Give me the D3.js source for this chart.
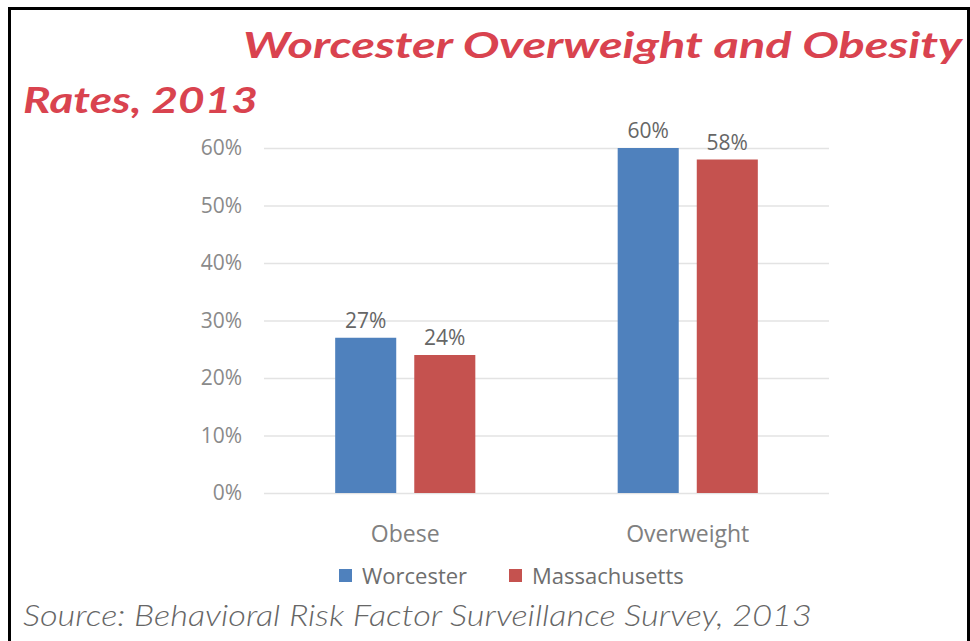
<!DOCTYPE html>
<html>
<head>
<meta charset="utf-8">
<script src="https://cdn.jsdelivr.net/npm/d3@7"></script>
<style>
  body { margin: 0; background: #fff; }
  svg { display: block; }
</style>
</head>
<body>
<script>
// chart data
var categories = ["Obese", "Overweight"];
var series = ["Worcester", "Massachusetts"];
var worcester = [0.27, 0.60];
var massachusetts = [0.24, 0.58];
var valueLabels = [["27%", "24%"], ["60%", "58%"]];
var yTicks = [0, 0.1, 0.2, 0.3, 0.4, 0.5, 0.6];
var colors = { "Worcester": "#4f81bd", "Massachusetts": "#c5524f" };

var W = 970, H = 641;
var svg = d3.select("body").append("svg").attr("width", W).attr("height", H);

// frame (top, left, right only - picture is cropped at bottom)
svg.append("path")
  .attr("d", "M9.5,641V8.5H968.5V641")
  .attr("fill", "none")
  .attr("stroke", "#000")
  .attr("stroke-width", 3);

// title
var titleColor = "#d9434f";
svg.append("text")
  .attr("x", 243).attr("y", 58)
  .attr("textLength", 719).attr("lengthAdjust", "spacingAndGlyphs")
  .style("font-family", "Lato, 'Open Sans', sans-serif")
  .style("font-weight", "bold").style("font-style", "italic")
  .style("font-size", "36px").attr("fill", titleColor)
  .text("Worcester Overweight and Obesity");
svg.append("text")
  .attr("x", 23).attr("y", 113)
  .attr("textLength", 235).attr("lengthAdjust", "spacingAndGlyphs")
  .style("font-family", "Lato, 'Open Sans', sans-serif")
  .style("font-weight", "bold").style("font-style", "italic")
  .style("font-size", "36px").attr("fill", titleColor)
  .text("Rates, 2013");

// scales
var y = d3.scaleLinear().domain([0, 0.6]).range([493, 148]);
var x0 = d3.scaleBand().domain(categories).range([264, 829]);
var x1 = d3.scaleBand().domain(series).range([0, x0.bandwidth()])
  .paddingInner(0.228).paddingOuter(0.9);

// y axis + gridlines
var yAxis = d3.axisLeft(y).tickValues(yTicks).tickFormat(d3.format(".0%"))
  .tickSize(-(829 - 264)).tickPadding(22);
var gy = svg.append("g").attr("transform", "translate(264,0)").call(yAxis);
gy.select(".domain").remove();
gy.selectAll(".tick line").attr("stroke", "#e3e3e3").attr("stroke-width", 1.5);
gy.selectAll(".tick text")
  .attr("fill", "#8a8a8a")
  .style("font-family", "'Open Sans', sans-serif")
  .style("font-size", "21px");

// bars
var rows = categories.map(function (c, i) {
  return { cat: c, vals: [worcester[i], massachusetts[i]], labels: valueLabels[i] };
});
var groups = svg.selectAll(".grp").data(rows).enter().append("g")
  .attr("class", "grp")
  .attr("transform", function (d) { return "translate(" + x0(d.cat) + ",0)"; });

groups.selectAll("rect")
  .data(function (d) { return d.vals.map(function (v, j) { return { s: series[j], v: v }; }); })
  .enter().append("rect")
  .attr("x", function (d) { return x1(d.s); })
  .attr("y", function (d) { return y(d.v); })
  .attr("width", x1.bandwidth())
  .attr("height", function (d) { return y(0) - y(d.v); })
  .attr("fill", function (d) { return colors[d.s]; });

groups.selectAll("text.val")
  .data(function (d) { return d.vals.map(function (v, j) { return { s: series[j], v: v, t: d.labels[j] }; }); })
  .enter().append("text")
  .attr("class", "val")
  .attr("x", function (d) { return x1(d.s) + x1.bandwidth() / 2; })
  .attr("y", function (d) { return y(d.v) - 10; })
  .attr("text-anchor", "middle")
  .attr("fill", "#666")
  .style("font-family", "'Open Sans', sans-serif")
  .style("font-size", "21px")
  .text(function (d) { return d.t; });

// category labels
svg.selectAll("text.cat").data(categories).enter().append("text")
  .attr("class", "cat")
  .attr("x", function (d) { return x0(d) + x0.bandwidth() / 2; })
  .attr("y", 542)
  .attr("text-anchor", "middle")
  .attr("fill", "#808080")
  .style("font-family", "'Open Sans', sans-serif")
  .style("font-size", "23px")
  .text(function (d) { return d; });

// legend
var legendX = [339, 509];
var lg = svg.selectAll(".lg").data(series).enter().append("g")
  .attr("class", "lg")
  .attr("transform", function (d, i) { return "translate(" + legendX[i] + ",0)"; });
lg.append("rect").attr("x", 0).attr("y", 569).attr("width", 13).attr("height", 13)
  .attr("fill", function (d) { return colors[d]; });
lg.append("text").attr("x", 23).attr("y", 584)
  .attr("fill", "#6e6e6e")
  .style("font-family", "'Open Sans', sans-serif")
  .style("font-size", "22px")
  .text(function (d) { return d; });

// source note
svg.append("text")
  .attr("x", 23).attr("y", 626)
  .attr("textLength", 789).attr("lengthAdjust", "spacingAndGlyphs")
  .attr("fill", "#666")
  .style("font-family", "Lato, 'Open Sans', sans-serif")
  .style("font-weight", "300").style("font-style", "italic")
  .style("font-size", "30px")
  .text("Source: Behavioral Risk Factor Surveillance Survey, 2013");
</script>
</body>
</html>
